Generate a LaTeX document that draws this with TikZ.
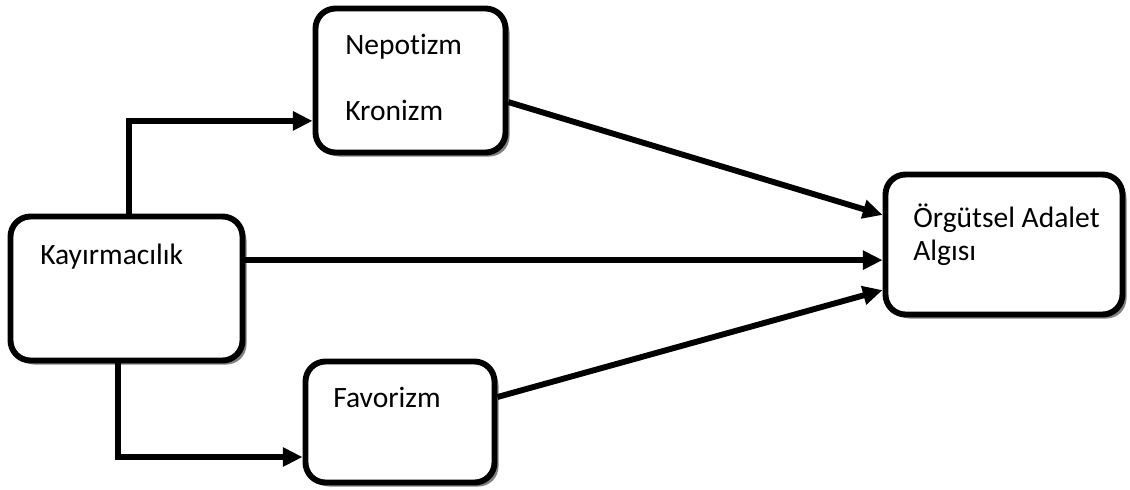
\documentclass[tikz,border=0pt]{standalone}
\usepackage{fontspec}
\setmainfont[Ligatures=NoCommon]{Carlito}
\usetikzlibrary{arrows.meta, positioning, calc, shadows}
\definecolor{shade}{HTML}{808080}
\def\lw{4.2pt}

\begin{document}
\begin{tikzpicture}[
    every node/.style={font=\fontsize{21}{24}\selectfont},
    box/.style={draw=black, line width=\lw, rounded corners=0.5cm, fill=white,
        inner sep=0pt,
        drop shadow={shadow xshift=0.1cm, shadow yshift=-0.1cm,
            fill=shade, opacity=1}},
    lbl/.style={anchor=base west, inner sep=0pt},
    arr/.style={-{Triangle[length=14pt, width=13pt]}, line width=\lw},
]
\useasboundingbox (0,0) rectangle (28.25,-12.225);

% ---------------------------------------------------------- boxes
\node[box, minimum width=5.8cm,   minimum height=3.6cm]   (kay) at (3.1625, -7.2125) {};
\node[box, minimum width=4.75cm,  minimum height=3.6cm]   (nep) at (10.2625, -2.0125) {};
\node[box, minimum width=5.925cm, minimum height=3.5cm]   (org) at (25.1, -6.1125) {};
\node[box, minimum width=4.725cm, minimum height=3.025cm] (fav) at (10.0, -10.55) {};

% ---------------------------------------------------------- texts
\node[lbl] (kaytext) at (1.0, -6.6)      {Kayırmacılık};
\node[lbl] (neptext) at (8.625, -1.35)   {Nepotizm};
\node[lbl] (krotext) at (8.625, -3.0)    {Kronizm};
\node[lbl] (orgtext) at (22.825, -5.675) {Örgütsel Adalet};
\node[lbl] (algtext) at (22.825, -6.5)   {Algısı};
\node[lbl] (favtext) at (8.325, -10.175) {Favorizm};

% ---------------------------------------------------------- connectors
\draw[arr] ([xshift=0.06cm]kay.north) |- ([yshift=-1.01cm]nep.west);
\draw[arr] ([yshift=0.71cm]kay.east) coordinate (kr) -- (kr -| org.west);
\draw[arr] ([xshift=-0.21cm]kay.south) |- ([yshift=-0.875cm]fav.west);
\draw[arr] ([yshift=-0.54cm]nep.east) -- ([yshift=0.74cm]org.west);
\draw[arr] ([yshift=0.625cm]fav.east) -- ([yshift=-1.14cm]org.west);

\end{tikzpicture}
\end{document}
